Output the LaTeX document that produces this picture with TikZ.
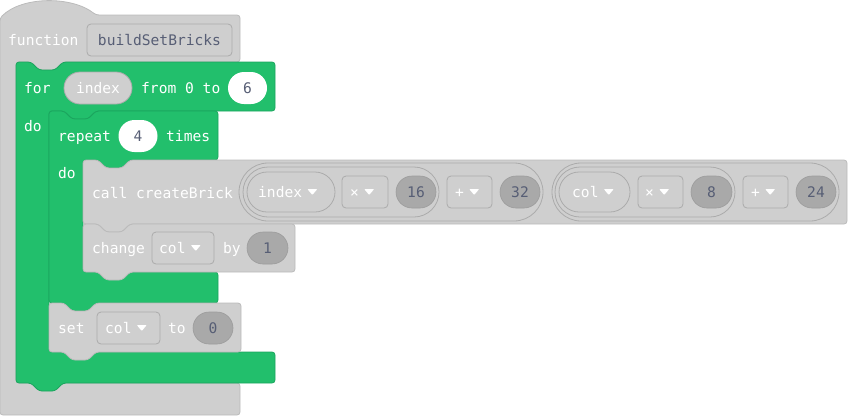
\documentclass[tikz,border=0pt]{standalone}
\usepackage{fontspec}
\setmonofont{DejaVu Sans Mono}
\usepackage{xcolor}

\definecolor{blockgray}{HTML}{CFCFCF}
\definecolor{blockedge}{HTML}{BBBBBB}
\definecolor{fieldedge}{HTML}{ABABAB}
\definecolor{numfill}{HTML}{A9A9A9}
\definecolor{numedge}{HTML}{9C9C9C}
\definecolor{loopgreen}{HTML}{22BF6C}
\definecolor{loopedge}{HTML}{1BA55E}
\definecolor{fieldtext}{HTML}{575E75}

\tikzset{
    blk/.style={fill=blockgray, draw=blockedge, line width=0.8pt, rounded corners=3pt},
    grn/.style={fill=loopgreen, draw=loopedge, line width=0.8pt, rounded corners=3pt},
    txt/.style={font=\ttfamily\fontsize{14.6pt}{17pt}\selectfont, inner sep=0pt,
        text height=10.5pt, text depth=0pt},
    lbl/.style={txt, text=white, anchor=west},
    fieldbox/.style={txt, fill=blockgray, draw=fieldedge, line width=0.8pt,
        rounded corners=4pt, minimum height=32pt, text=fieldtext},
    numpill/.style={txt, fill=numfill, draw=numedge, line width=0.6pt,
        rounded corners=16pt, minimum height=32pt, text=fieldtext},
    whitepill/.style={txt, fill=white, rounded corners=16pt, minimum height=32pt,
        text=fieldtext},
    varpill/.style={txt, fill=blockgray, draw=fieldedge, line width=0.8pt,
        rounded corners=20pt, minimum height=40pt, text=white},
    exprpill/.style={fill=blockgray, draw=fieldedge, line width=0.8pt,
        rounded corners=29pt, inner sep=0pt},
    droptri/.style={fill=white, rounded corners=0.8pt}
}

\begin{document}
\begin{tikzpicture}[x=1pt, y=-1pt]
    \useasboundingbox (0,0) rectangle (848,416);
    % function block
    \draw[blk] (0,18) .. controls (22,-4) and (72,-4) .. (96,15) -- (240,15) -- (240,62)
        -- (63,62) -- (55,70) -- (39,70) -- (31,62) -- (16,62) -- (16,383)
        -- (240,383) -- (240,415) -- (0,415) -- cycle;
    % for block
    \draw[grn] (16,62) -- (31,62) -- (39,70) -- (55,70) -- (63,62) -- (275,62) -- (275,111)
        -- (96,111) -- (88,119) -- (72,119) -- (64,111) -- (49,111) -- (49,352)
        -- (275,352) -- (275,383) -- (63,383) -- (55,391) -- (39,391) -- (31,383)
        -- (16,383) -- cycle;
    % repeat block
    \draw[grn] (49,111) -- (64,111) -- (72,119) -- (88,119) -- (96,111) -- (218,111) -- (218,160)
        -- (130,160) -- (122,168) -- (106,168) -- (98,160) -- (83,160) -- (83,272)
        -- (218,272) -- (218,303) -- (96,303) -- (88,311) -- (72,311) -- (64,303)
        -- (49,303) -- cycle;
    % call block
    \draw[blk] (83,160) -- (98,160) -- (106,168) -- (122,168) -- (130,160) -- (847,160)
        -- (847,224) -- (130,224) -- (122,232) -- (106,232) -- (98,224) -- (83,224) -- cycle;
    % change block
    \draw[blk] (83,224) -- (98,224) -- (106,232) -- (122,232) -- (130,224) -- (295,224)
        -- (295,272) -- (130,272) -- (122,280) -- (106,280) -- (98,272) -- (83,272) -- cycle;
    % set block
    \draw[blk] (49,303) -- (64,303) -- (72,311) -- (88,311) -- (96,303) -- (241,303)
        -- (241,352) -- (96,352) -- (88,360) -- (72,360) -- (64,352) -- (49,352) -- cycle;

    % function row
    \node[lbl] (fnKw) at (8,40) {function};
    \node[fieldbox, minimum width=145pt] (fnName) at (159.5,40) {buildSetBricks};
    % for row
    \node[lbl] (forKw) at (24,88) {for};
    \node[varpill, minimum width=68pt, minimum height=32pt, rounded corners=16pt] (forVar) at (98,88) {index};
    \node[lbl] (forRange) at (141,88) {from 0 to};
    \node[whitepill, minimum width=39pt] (forEnd) at (247.5,88) {6};
    \node[lbl] (forDo) at (24,126) {do};
    % repeat row
    \node[lbl] (repKw) at (58,136) {repeat};
    \node[whitepill, minimum width=39pt] (repN) at (138,136) {4};
    \node[lbl] (repTimes) at (166,136) {times};
    \node[lbl] (repDo) at (58,173) {do};
    % call row
    \node[lbl] (callKw) at (92,193) {call createBrick};
    \node[exprpill, minimum width=304pt, minimum height=58pt] (sumA) at (391,192) {};
    \node[exprpill, minimum width=196pt, minimum height=50pt, rounded corners=25pt] (mulA) at (341,192) {};
    \node[varpill, minimum width=88pt] (varA) at (291,192) {};
    \node[lbl] (varAT) at (258,192) {index};
    \node[fieldbox, minimum width=46pt] (opA1) at (365,192) {};
    \node[lbl] (opA1T) at (350,192) {×};
    \node[numpill, minimum width=40pt] (numA1) at (416,192) {16};
    \node[fieldbox, minimum width=45pt] (opA2) at (469.5,192) {};
    \node[lbl] (opA2T) at (455,192) {+};
    \node[numpill, minimum width=40pt] (numA2) at (520,192) {32};
    \node[exprpill, minimum width=287pt, minimum height=58pt] (sumB) at (695.5,192) {};
    \node[exprpill, minimum width=180pt, minimum height=50pt, rounded corners=25pt] (mulB) at (645,192) {};
    \node[varpill, minimum width=71pt] (varB) at (594.5,192) {};
    \node[lbl] (varBT) at (572,192) {col};
    \node[fieldbox, minimum width=45pt] (opB1) at (660.5,192) {};
    \node[lbl] (opB1T) at (645,192) {×};
    \node[numpill, minimum width=41pt] (numB1) at (711.5,192) {8};
    \node[fieldbox, minimum width=45pt] (opB2) at (765.5,192) {};
    \node[lbl] (opB2T) at (751,192) {+};
    \node[numpill, minimum width=40pt] (numB2) at (816,192) {24};
    % change row
    \node[lbl] (chgKw) at (92,248) {change};
    \node[fieldbox, minimum width=62pt] (chgVar) at (183,248) {};
    \node[lbl] (chgVarT) at (159,248) {col};
    \node[lbl] (chgBy) at (223,248) {by};
    \node[numpill, minimum width=41pt] (chgN) at (267.5,248) {1};
    % set row
    \node[lbl] (setKw) at (58,328) {set};
    \node[fieldbox, minimum width=63pt] (setVar) at (128.5,328) {};
    \node[lbl] (setVarT) at (105,328) {col};
    \node[lbl] (setTo) at (168,328) {to};
    \node[numpill, minimum width=40pt] (setN) at (213,328) {0};

    % dropdown arrows
    \foreach \n in {varAT, opA1T, opA2T, varBT, opB1T, opB2T, chgVarT, setVarT} {
        \fill[droptri] ([xshift=5pt, yshift=3pt]\n.east) -- ++(10,0) -- ++(-5,6) -- cycle;
    }
\end{tikzpicture}
\end{document}
